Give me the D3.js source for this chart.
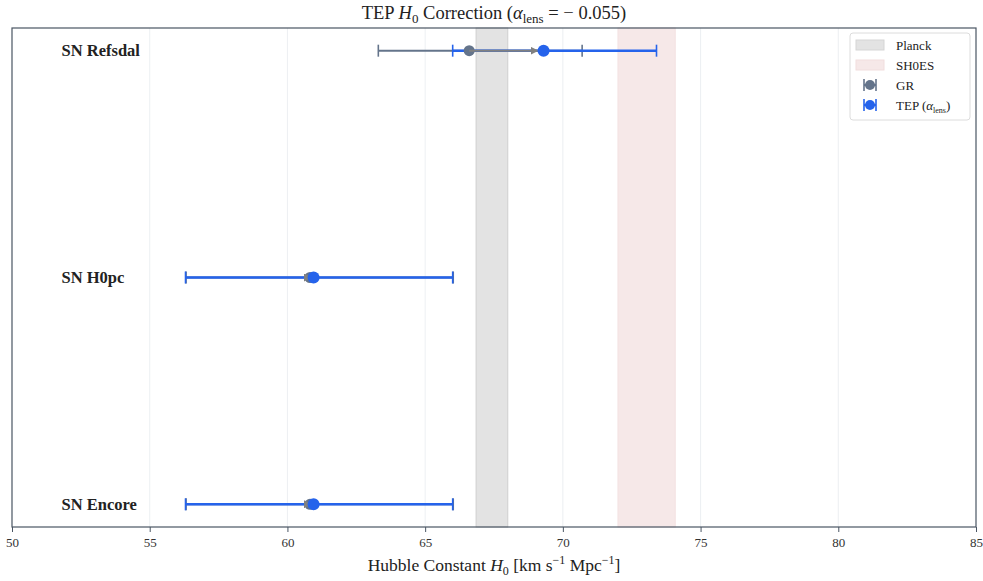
<!DOCTYPE html>
<html>
<head>
<meta charset="utf-8">
<script src="https://cdn.jsdelivr.net/npm/d3@7"></script>
<style>
  body { margin: 0; background: #fff; }
  text { font-family: "Liberation Serif", "DejaVu Serif", serif; }
</style>
</head>
<body>
<div id="chart"></div>
<script>
// data
const targets = ["SN Refsdal", "SN H0pc", "SN Encore"];
const grH0 = [66.6, 60.82, 60.82];
const grLo = [3.3, 4.5, 4.5];
const grHi = [4.1, 5.2, 5.2];
const tepH0 = [69.3, 60.95, 60.95];
const tepLo = [3.3, 4.65, 4.65];
const tepHi = [4.1, 5.05, 5.05];
const planck = [66.85, 68.0];
const shoes = [72.0, 74.08];
const xTicks = [50, 55, 60, 65, 70, 75, 80, 85];

const W = 983, H = 581;
const m = {left: 12, right: 7, top: 28, bottom: 54};

const svg = d3.select("#chart").append("svg")
  .attr("width", W).attr("height", H);

const x = d3.scaleLinear().domain([50, 85]).range([m.left, W - m.right]);
const y = d3.scaleLinear().domain([-0.1, 2.1]).range([m.top, H - m.bottom]);

const blue = "#2563eb", grey = "#64748b", arrowCol = "#808080";

// reference bands
svg.append("rect")
  .attr("x", x(planck[0])).attr("y", m.top)
  .attr("width", x(planck[1]) - x(planck[0])).attr("height", y(2.1) - y(-0.1))
  .attr("fill", "#e3e3e3").attr("stroke", "#cfcfcf").attr("stroke-width", 1);
svg.append("rect")
  .attr("x", x(shoes[0])).attr("y", m.top)
  .attr("width", x(shoes[1]) - x(shoes[0])).attr("height", y(2.1) - y(-0.1))
  .attr("fill", "#f6e8e8").attr("stroke", "#f3e2e2").attr("stroke-width", 1);

// vertical grid
svg.append("g").selectAll("line")
  .data(xTicks.slice(1, -1))
  .join("line")
  .attr("x1", d => x(d)).attr("x2", d => x(d))
  .attr("y1", m.top).attr("y2", H - m.bottom)
  .attr("stroke", "#dfe4ea").attr("stroke-opacity", 0.6).attr("stroke-width", 1);

// error bars
function errorBars(vals, lo, hi, col, w) {
  const g = svg.append("g").attr("stroke", col).attr("stroke-width", w);
  vals.forEach((v, i) => {
    const yy = y(i);
    g.append("line").attr("x1", x(v - lo[i])).attr("x2", x(v + hi[i]))
      .attr("y1", yy).attr("y2", yy);
    [v - lo[i], v + hi[i]].forEach(e => {
      g.append("line").attr("x1", x(e)).attr("x2", x(e))
        .attr("y1", yy - 6).attr("y2", yy + 6).attr("stroke-width", 1.6);
    });
  });
}
errorBars(grH0, grLo, grHi, grey, 2);
errorBars(tepH0, tepLo, tepHi, blue, 2.6);

// GR markers
svg.append("g").selectAll("circle")
  .data(grH0).join("circle")
  .attr("cx", d => x(d)).attr("cy", (d, i) => y(i)).attr("r", 5.5)
  .attr("fill", grey);

// arrows GR -> TEP
svg.append("defs").append("marker")
  .attr("id", "ah").attr("viewBox", "0 0 10 10")
  .attr("refX", 10).attr("refY", 5)
  .attr("markerWidth", 4).attr("markerHeight", 4)
  .attr("markerUnits", "strokeWidth")
  .attr("orient", "auto")
  .append("path").attr("d", "M0,0 L10,5 L0,10 Z").attr("fill", arrowCol);

svg.append("g").selectAll("line")
  .data(grH0).join("line")
  .attr("x1", d => x(d))
  .attr("x2", (d, i) => Math.max(x(tepH0[i]) - 5, x(d) + 2))
  .attr("y1", (d, i) => y(i)).attr("y2", (d, i) => y(i))
  .attr("stroke", arrowCol).attr("stroke-width", 2)
  .attr("marker-end", "url(#ah)");

// TEP markers
svg.append("g").selectAll("circle")
  .data(tepH0).join("circle")
  .attr("cx", d => x(d)).attr("cy", (d, i) => y(i)).attr("r", 6)
  .attr("fill", blue);

// target labels
svg.append("g").selectAll("text")
  .data(targets).join("text")
  .attr("x", x(51.8)).attr("y", (d, i) => y(i)).attr("dy", "0.35em")
  .attr("font-size", 16.5).attr("font-weight", "bold").attr("fill", "#222")
  .text(d => d);

// frame
svg.append("rect")
  .attr("x", m.left).attr("y", m.top)
  .attr("width", W - m.left - m.right).attr("height", H - m.top - m.bottom)
  .attr("fill", "none").attr("stroke", "#4a5563").attr("stroke-width", 1.2);

// x axis
const xAxis = svg.append("g")
  .attr("transform", `translate(0,${H - m.bottom})`)
  .call(d3.axisBottom(x).tickValues(xTicks).tickSize(5).tickPadding(6).tickFormat(d3.format("d")));
xAxis.select(".domain").remove();
xAxis.selectAll(".tick line").attr("stroke", "#4a5563");
xAxis.selectAll(".tick text")
  .attr("font-family", "Liberation Serif, serif").attr("font-size", 13).attr("fill", "#333");

// x label
const xl = svg.append("text")
  .attr("x", (m.left + W - m.right) / 2).attr("y", H - 10)
  .attr("text-anchor", "middle").attr("font-size", 17.5).attr("fill", "#222");
xl.append("tspan").text("Hubble Constant ");
xl.append("tspan").attr("font-style", "italic").text("H");
xl.append("tspan").attr("font-size", 12).attr("dy", 4).text("0");
xl.append("tspan").attr("dy", -4).text(" [km s");
xl.append("tspan").attr("font-size", 12).attr("dy", -7).text("−1");
xl.append("tspan").attr("dy", 7).text(" Mpc");
xl.append("tspan").attr("font-size", 12).attr("dy", -7).text("−1");
xl.append("tspan").attr("dy", 7).text("]");

// title
const tt = svg.append("text")
  .attr("x", (m.left + W - m.right) / 2).attr("y", 19)
  .attr("text-anchor", "middle").attr("font-size", 18.5).attr("fill", "#222");
tt.append("tspan").text("TEP ");
tt.append("tspan").attr("font-style", "italic").text("H");
tt.append("tspan").attr("font-size", 13).attr("dy", 4).text("0");
tt.append("tspan").attr("dy", -4).text(" Correction (");
tt.append("tspan").attr("font-style", "italic").text("α");
tt.append("tspan").attr("font-size", 13).attr("dy", 4).text("lens");
tt.append("tspan").attr("dy", -4).text(" =  − 0.055)");

// legend
const lg = svg.append("g").attr("transform", "translate(850,33)");
lg.append("rect").attr("width", 120).attr("height", 87).attr("rx", 3)
  .attr("fill", "#fff").attr("fill-opacity", 0.9)
  .attr("stroke", "#dcdcdc");
const legItems = ["Planck", "SH0ES", "GR", "TEP"];
legItems.forEach((name, i) => {
  const yy = 12 + i * 20;
  if (i === 0) lg.append("rect").attr("x", 6).attr("y", yy - 5).attr("width", 28).attr("height", 10)
    .attr("fill", "#e3e3e3").attr("stroke", "#d5d5d5");
  if (i === 1) lg.append("rect").attr("x", 6).attr("y", yy - 5).attr("width", 28).attr("height", 10)
    .attr("fill", "#f6e8e8").attr("stroke", "#f1dede");
  if (i >= 2) {
    const c = i === 2 ? grey : blue;
    lg.append("line").attr("x1", 14).attr("x2", 26).attr("y1", yy).attr("y2", yy).attr("stroke", c).attr("stroke-width", 2);
    [14, 26].forEach(cx => lg.append("line").attr("x1", cx).attr("x2", cx)
      .attr("y1", yy - 6).attr("y2", yy + 6).attr("stroke", c).attr("stroke-width", 1.6));
    lg.append("circle").attr("cx", 20).attr("cy", yy).attr("r", 5).attr("fill", c);
  }
  const t = lg.append("text").attr("x", 46).attr("y", yy).attr("dy", "0.35em")
    .attr("font-size", 13).attr("fill", "#222");
  if (i < 3) t.text(name);
  else {
    t.append("tspan").text("TEP (");
    t.append("tspan").attr("font-style", "italic").text("α");
    t.append("tspan").attr("font-size", 8).attr("dy", 3).text("lens");
    t.append("tspan").attr("dy", -3).text(")");
  }
});
</script>
</body>
</html>
